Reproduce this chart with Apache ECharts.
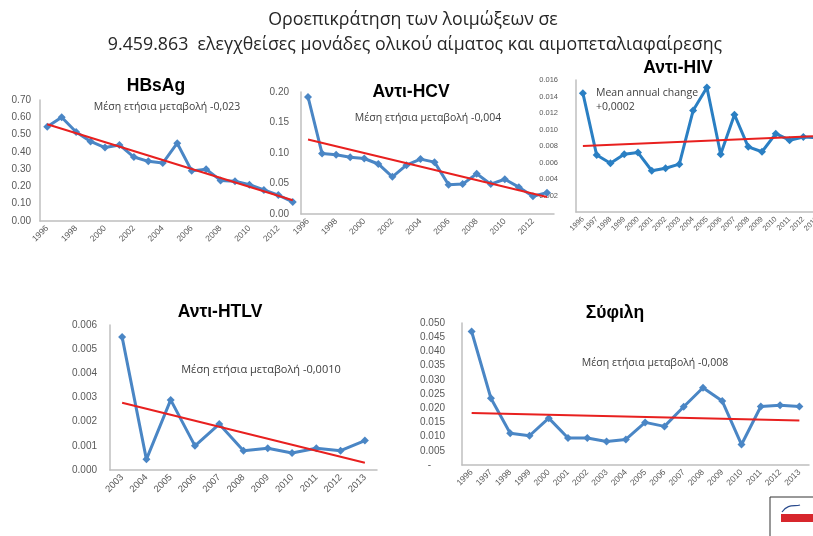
<!DOCTYPE html>
<html>
<head>
<meta charset="utf-8">
<script src="https://cdn.jsdelivr.net/npm/echarts@6/dist/echarts.min.js"></script>
<style>
  html, body { margin: 0; padding: 0; background: #fff; }
  #main { width: 813px; height: 536px; }
</style>
</head>
<body>
<div id="main"></div>
<script>
// categories
const yearsLong = ['1996','1997','1998','1999','2000','2001','2002','2003','2004','2005','2006','2007','2008','2009','2010','2011','2012','2013'];
const yearsHTLV = ['2003','2004','2005','2006','2007','2008','2009','2010','2011','2012','2013'];

// series values
const hbsag = [0.545, 0.60, 0.515, 0.46, 0.425, 0.44, 0.37, 0.345, 0.335, 0.45, 0.29, 0.30, 0.235, 0.23, 0.21, 0.18, 0.15, 0.11];
const hcv = [0.192, 0.099, 0.097, 0.093, 0.091, 0.082, 0.061, 0.080, 0.090, 0.085, 0.048, 0.049, 0.066, 0.049, 0.057, 0.044, 0.029, 0.035];
const hiv = [0.0144, 0.0069, 0.0059, 0.0070, 0.0072, 0.0050, 0.0053, 0.0058, 0.0123, 0.0151, 0.0070, 0.0118, 0.0079, 0.0073, 0.0095, 0.0087, 0.0091, 0.0090];
const htlv = [0.0055, 0.00044, 0.0029, 0.0010, 0.0019, 0.0008, 0.0009, 0.0007, 0.0009, 0.0008, 0.00122];
const syphilis = [0.047, 0.0235, 0.0112, 0.0103, 0.0165, 0.0095, 0.0095, 0.0083, 0.0090, 0.0150, 0.0136, 0.0205, 0.0272, 0.0225, 0.0072, 0.0206, 0.0210, 0.0206];

// trend lines: value at first and last year
const hbsagTrend = [0.56, 0.12];
const hcvTrend = [0.122, 0.028];
const hivTrend = [0.0080, 0.0092];
const htlvTrend = [0.00278, 0.0003];
const syphilisTrend = [0.0183, 0.0157];

// titles / notes
const mainTitle1 = 'Οροεπικράτηση των λοιμώξεων σε';
const mainTitle2 = '9.459.863  ελεγχθείσες μονάδες ολικού αίματος και αιμοπεταλιαφαίρεσης';

const chart = echarts.init(document.getElementById('main'));

const axisGrey = '#bfbfbf';
const labelGrey = '#595959';
const blue = '#4a86c5';
const red = '#e8201f';

const panels = [
  { cats: yearsLong, data: hbsag, trend: hbsagTrend, grid: { left: 40, top: 100, width: 260, height: 121 },
    max: 0.7, interval: 0.1, dec: 2, margin: 9, yFont: 10, xFont: 8.5, xInterval: 1 },
  { cats: yearsLong, data: hcv, trend: hcvTrend, grid: { left: 301, top: 92, width: 253, height: 122 },
    max: 0.2, interval: 0.05, dec: 2, margin: 12, yFont: 10, xFont: 8.5, xInterval: 1 },
  { cats: yearsLong, data: hiv, trend: hivTrend, grid: { left: 576, top: 80, width: 248, height: 132 },
    max: 0.016, interval: 0.002, dec: 3, margin: 18, yFont: 7.5, xFont: 7.5, xInterval: 0, hideMin: true, color: '#2a7fc3' },
  { cats: yearsHTLV, data: htlv, trend: htlvTrend, grid: { left: 110, top: 325, width: 267, height: 145 },
    max: 0.006, interval: 0.001, dec: 3, margin: 13, yFont: 10, xFont: 9.5, xInterval: 0 },
  { cats: yearsLong, data: syphilis, trend: syphilisTrend, grid: { left: 462, top: 323, width: 347, height: 142 },
    max: 0.05, interval: 0.005, dec: 3, margin: 17, yFont: 10, xFont: 8.5, xInterval: 0, dashZero: true }
];

const grid = [], xAxis = [], yAxis = [], series = [];
panels.forEach((p, i) => {
  grid.push(Object.assign({ outerBoundsMode: 'none', containLabel: false }, p.grid));
  xAxis.push({
    type: 'category', gridIndex: i, data: p.cats, boundaryGap: true,
    axisLine: { lineStyle: { color: axisGrey, width: 1.5 } },
    axisTick: { show: false },
    axisLabel: { rotate: 45, fontSize: p.xFont, color: labelGrey, interval: p.xInterval, margin: 6, fontFamily: 'Liberation Sans' }
  });
  yAxis.push({
    type: 'value', gridIndex: i, min: 0, max: p.max, interval: p.interval,
    axisLine: { show: true, lineStyle: { color: axisGrey, width: 1.5 } },
    axisTick: { show: false },
    splitLine: { show: false },
    axisLabel: {
      fontSize: p.yFont, color: labelGrey, margin: p.margin, fontFamily: 'Liberation Sans',
      showMinLabel: !p.hideMin,
      formatter: v => (p.dashZero && v === 0) ? '-     ' : v.toFixed(p.dec)
    }
  });
  series.push({
    type: 'line', xAxisIndex: i, yAxisIndex: i, data: p.data,
    symbol: 'diamond', symbolSize: 8,
    lineStyle: { color: p.color || blue, width: 3 },
    itemStyle: { color: p.color || blue },
    z: 2
  });
  series.push({
    type: 'line', xAxisIndex: i, yAxisIndex: i,
    data: [[0, p.trend[0]], [p.cats.length - 1, p.trend[1]]],
    symbol: 'none',
    lineStyle: { color: red, width: 2 },
    z: 3
  });
});

const txt = (x, y, text, size, opts) => Object.assign({
  type: 'text', x: x, y: y, z: 10,
  style: Object.assign({
    text: text, fontSize: size, fill: '#262626', align: 'center', verticalAlign: 'middle',
    fontFamily: 'Open Sans'
  }, opts || {})
});

const noteFont = { fill: '#404040', fontFamily: 'Open Sans' };
const headFont = { fill: '#000', fontWeight: 'bold', fontFamily: 'Liberation Sans' };

const graphic = [
  txt(413, 20, mainTitle1, 17.8),
  txt(415, 45, mainTitle2, 17.8),
  txt(156, 86, 'HBsAg', 17.5, headFont),
  txt(411, 92, 'Αντι-HCV', 17.5, headFont),
  txt(678, 68, 'Αντι-HIV', 17.5, headFont),
  txt(220, 312, 'Αντι-HTLV', 17.5, headFont),
  txt(615, 313, 'Σύφιλη', 17.5, headFont),
  txt(167, 107, 'Μέση ετήσια μεταβολή -0,023', 10.5, noteFont),
  txt(428, 118, 'Μέση ετήσια μεταβολή -0,004', 10.5, noteFont),
  txt(596, 93, 'Mean annual change', 10.5, Object.assign({ align: 'left' }, noteFont)),
  txt(596, 107, '+0,0002', 10.5, Object.assign({ align: 'left' }, noteFont)),
  txt(261, 370, 'Μέση ετήσια μεταβολή -0,0010', 11, noteFont),
  txt(655, 363, 'Μέση ετήσια μεταβολή -0,008', 10.5, noteFont),
  // logo box, bottom right
  { type: 'rect', shape: { x: 770, y: 497, width: 50, height: 45 }, style: { fill: '#fff', stroke: '#333', lineWidth: 1 }, z: 10 },
  { type: 'rect', shape: { x: 781, y: 514, width: 36, height: 8 }, style: { fill: '#d7262c' }, z: 11 },
  txt(799, 518, 'ΚΕΕΛΠΝΟ', 6, { fill: '#fff', fontWeight: 'bold', fontStyle: 'italic', fontFamily: 'Liberation Sans' }),
  { type: 'bezierCurve', shape: { x1: 782, y1: 512, x2: 800, y2: 505, cpx1: 788, cpy1: 503, cpx2: 795, cpy2: 507 }, style: { stroke: '#2a4b8d', lineWidth: 1.2, fill: null }, z: 11 }
];

chart.setOption({
  backgroundColor: '#fff',
  animation: false,
  grid: grid,
  xAxis: xAxis,
  yAxis: yAxis,
  series: series,
  graphic: graphic
});
</script>
</body>
</html>
